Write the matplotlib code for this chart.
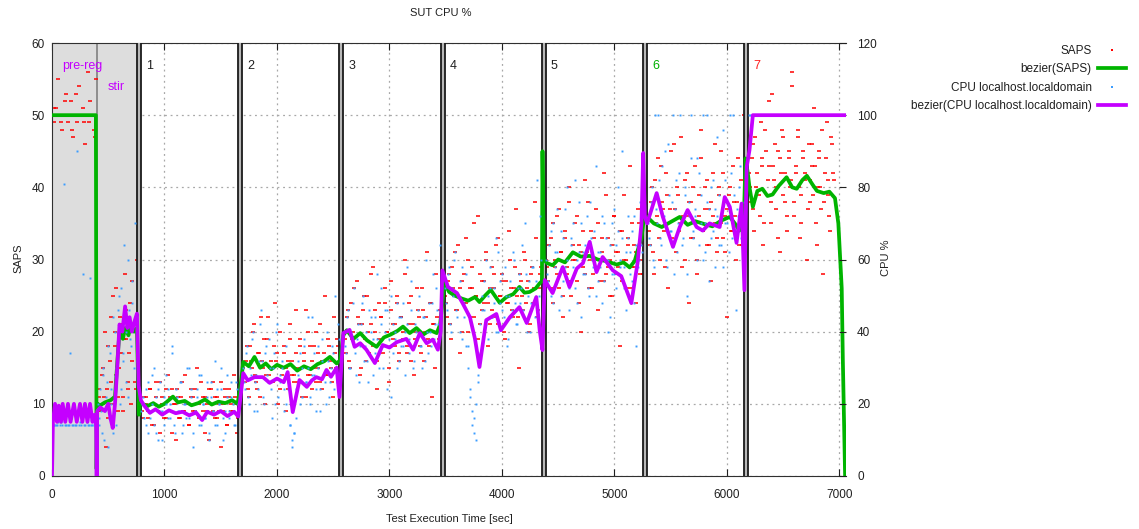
import numpy as np
import matplotlib
matplotlib.use('Agg')
import matplotlib.pyplot as plt
from matplotlib.lines import Line2D

plt.rcParams['font.family'] = ['Liberation Sans', 'DejaVu Sans']
plt.rcParams['font.size'] = 8
plt.rcParams['text.color'] = '#202020'

# stage boundaries (start of each separator), separator width 35 s
bounds = [755, 1655, 2555, 3455, 4355, 5255, 6155]
stage_names = ['1', '2', '3', '4', '5', '6', '7']
stage_colors = ['#202020', '#202020', '#202020', '#202020', '#202020', '#00b000', '#ff2020']

# phase time ranges for the scatter samples
phases = [(5, 392), (405, 752), (795, 1650), (1695, 2550), (2595, 3450),
          (3495, 4350), (4395, 5250), (5295, 6150), (6195, 6950)]

# SAPS samples per phase (left axis)
saps_pts = [
    [50, 49, 51, 55, 50, 48, 50, 53, 49, 50, 52, 47, 50, 49, 54, 50, 51, 46, 50, 49, 52, 50, 48, 55],
    [10, 12, 9, 15, 11, 4, 18, 10, 13, 25, 20, 14, 9, 22, 17, 11, 28, 19, 12, 24, 16, 21, 13, 30],
    [10, 8, 11, 9, 12, 7, 10, 13, 9, 6, 11, 10, 8, 14, 9, 12, 10, 5, 11, 8, 13, 9, 10, 7,
     12, 11, 9, 15, 10, 8, 11, 6, 9, 12, 10, 13, 8, 11, 9, 4, 10, 12, 7, 11, 9, 14, 10, 8],
    [15, 13, 18, 11, 16, 20, 14, 12, 17, 22, 15, 10, 19, 14, 16, 13, 24, 17, 12, 15, 18, 9, 16, 21,
     14, 13, 17, 15, 19, 11, 16, 23, 14, 18, 12, 15, 20, 17, 13, 16, 25, 14, 18, 15, 11, 17, 19, 15],
    [20, 17, 23, 15, 19, 26, 18, 22, 14, 21, 25, 16, 20, 28, 18, 23, 12, 19, 22, 17, 24, 20, 15, 27,
     21, 18, 24, 16, 22, 19, 30, 17, 21, 25, 14, 20, 23, 18, 26, 16, 22, 19, 24, 11, 21, 28, 18, 23],
    [25, 22, 28, 19, 26, 31, 23, 17, 27, 24, 33, 20, 26, 29, 22, 25, 36, 21, 27, 24, 30, 18, 26, 23,
     28, 32, 21, 25, 27, 19, 24, 34, 26, 22, 29, 25, 15, 27, 23, 30, 26, 20, 28, 24, 38, 22, 26, 29],
    [30, 27, 33, 24, 29, 36, 26, 31, 22, 34, 28, 38, 25, 30, 35, 27, 32, 20, 29, 41, 31, 26, 34, 28,
     37, 23, 30, 33, 27, 39, 29, 25, 32, 36, 28, 31, 18, 34, 30, 26, 33, 43, 29, 32, 24, 35, 30, 28],
    [36, 32, 40, 28, 35, 44, 30, 38, 34, 42, 26, 37, 33, 46, 31, 39, 35, 29, 41, 36, 24, 38, 33, 43,
     30, 36, 48, 34, 40, 32, 37, 27, 42, 35, 31, 39, 45, 33, 36, 22, 40, 34, 38, 30, 44, 36, 32, 50],
    [42, 38, 46, 34, 40, 50, 36, 44, 32, 48, 39, 43, 35, 53, 41, 37, 45, 31, 42, 47, 38, 34, 44, 40,
     56, 36, 42, 48, 33, 39, 45, 41, 30, 46, 38, 43, 51, 35, 40, 44, 37, 28, 42, 49, 39, 34, 46, 41],
]
# second pass of SAPS samples (interleaved in time)
saps_pts_b = [
    [51, 50, 49, 52, 50, 48, 53, 50, 49, 56, 50, 47],
    [11, 9, 14, 10, 20, 12, 8, 16, 22, 10, 18, 26, 11, 15, 21, 9, 19, 23, 13, 17, 10, 27, 20, 12],
    [9, 11, 10, 8, 12, 10, 7, 11, 9, 13, 10, 8, 12, 9, 11, 6, 10, 12, 8, 11, 9, 14, 10, 7,
     11, 9, 12, 10, 8, 13, 9, 11, 10, 5, 12, 9, 11, 8, 10, 13, 9, 11, 7, 12, 10, 9, 11, 6],
    [14, 16, 12, 18, 15, 21, 13, 17, 11, 16, 19, 14, 22, 15, 13, 18, 16, 10, 20, 14, 17, 15, 12, 19,
     16, 14, 23, 13, 18, 15, 17, 11, 20, 14, 16, 18, 13, 15, 21, 12, 17, 14, 19, 16, 13, 22, 15, 18],
    [19, 22, 16, 24, 20, 18, 27, 21, 15, 23, 19, 25, 17, 21, 29, 20, 16, 24, 22, 18, 26, 20, 13, 23,
     19, 21, 25, 17, 22, 20, 28, 18, 24, 16, 21, 19, 26, 22, 17, 23, 20, 31, 18, 24, 21, 15, 22, 19],
    [24, 27, 21, 29, 25, 23, 32, 26, 20, 28, 24, 30, 22, 26, 35, 25, 19, 28, 23, 27, 31, 24, 21, 29,
     26, 22, 33, 25, 28, 20, 27, 24, 30, 23, 26, 37, 22, 28, 25, 31, 24, 27, 21, 29, 26, 33, 23, 28],
    [29, 32, 26, 35, 30, 28, 37, 31, 25, 33, 29, 40, 27, 32, 30, 36, 24, 31, 34, 28, 38, 30, 26, 33,
     29, 35, 27, 31, 42, 28, 33, 30, 25, 36, 31, 29, 34, 27, 39, 30, 32, 26, 35, 29, 31, 37, 28, 33],
    [34, 38, 31, 41, 36, 33, 43, 37, 29, 39, 35, 45, 32, 37, 40, 34, 47, 36, 30, 42, 38, 33, 40, 35,
     28, 39, 44, 34, 37, 41, 32, 38, 36, 46, 33, 40, 35, 42, 31, 37, 39, 34, 43, 36, 38, 32, 41, 35],
    [40, 44, 37, 47, 42, 39, 49, 43, 35, 45, 41, 52, 38, 43, 46, 40, 33, 44, 48, 39, 42, 36, 45, 41,
     54, 38, 43, 47, 40, 35, 44, 42, 50, 37, 41, 46, 39, 43, 32, 45, 40, 48, 38, 44, 41, 36, 47, 42],
]

# CPU % samples per phase (right axis)
cpu_pts = [
    [14, 14, 14, 15, 14, 14, 81, 14, 14, 34, 16, 14, 14, 90, 14, 14, 56, 14, 15, 14, 55, 14, 14, 14],
    [20, 14, 18, 28, 10, 22, 36, 16, 24, 12, 40, 30, 46, 20, 52, 34, 44, 26, 60, 38, 48, 42, 70, 32],
    [18, 22, 14, 26, 16, 20, 30, 12, 24, 18, 10, 22, 28, 16, 20, 34, 14, 24, 18, 26, 12, 20, 16, 30,
     22, 8, 18, 24, 14, 28, 20, 16, 22, 12, 26, 18, 32, 14, 20, 24, 10, 18, 28, 16, 22, 14, 26, 20],
    [30, 24, 36, 20, 28, 40, 26, 18, 32, 46, 22, 34, 28, 38, 24, 30, 20, 42, 26, 32, 18, 36, 24, 14,
     10, 12, 16, 28, 34, 22, 38, 26, 30, 20, 44, 28, 24, 36, 18, 32, 26, 40, 22, 30, 34, 50, 26, 38],
    [40, 34, 46, 30, 38, 52, 28, 42, 36, 48, 32, 40, 26, 44, 38, 34, 56, 30, 42, 36, 46, 24, 38, 50,
     34, 40, 30, 44, 36, 48, 28, 42, 38, 54, 32, 40, 46, 36, 30, 44, 60, 34, 40, 48, 38, 52, 42, 64],
    [52, 46, 58, 40, 50, 62, 44, 54, 38, 48, 56, 36, 24, 18, 12, 20, 28, 42, 50, 46, 60, 38, 52, 44,
     48, 66, 40, 54, 46, 58, 36, 50, 44, 62, 48, 42, 56, 52, 46, 70, 40, 54, 48, 58, 44, 82, 50, 60],
    [60, 54, 68, 48, 62, 74, 56, 50, 66, 58, 80, 46, 64, 70, 52, 60, 76, 44, 62, 56, 72, 50, 66, 58,
     86, 54, 62, 48, 70, 60, 40, 64, 56, 74, 52, 68, 60, 90, 58, 46, 66, 62, 54, 72, 36, 60, 64, 78],
    [70, 64, 80, 58, 74, 100, 66, 86, 72, 60, 92, 68, 76, 56, 82, 70, 100, 64, 78, 50, 72, 88, 66, 74,
     60, 84, 70, 100, 62, 76, 54, 80, 68, 74, 94, 64, 72, 58, 82, 70, 100, 66, 78, 46, 72, 86, 68, 76],
    [100, 100, 100, 100, 100, 100, 100, 100, 100, 100, 100, 100, 100, 100, 100, 100],
]
# second pass of CPU samples
cpu_pts_b = [
    [14, 14, 15, 14, 14, 14, 14, 15, 14, 14, 14, 14],
    [16, 24, 12, 30, 18, 26, 8, 34, 20, 44, 28, 14, 38, 50, 24, 32, 64, 40, 22, 46, 36, 54, 30, 42],
    [20, 16, 24, 12, 18, 28, 14, 22, 10, 26, 18, 14, 20, 24, 16, 36, 12, 22, 18, 26, 14, 20, 30, 16,
     24, 12, 18, 22, 28, 14, 20, 16, 26, 10, 22, 18, 14, 24, 20, 30, 16, 12, 22, 18, 26, 20, 14, 24],
    [26, 34, 22, 30, 38, 18, 28, 24, 42, 32, 20, 36, 26, 30, 16, 34, 40, 22, 28, 30, 24, 20, 26, 14,
     8, 12, 24, 32, 20, 30, 36, 26, 44, 22, 28, 34, 18, 30, 24, 38, 28, 20, 32, 26, 36, 24, 30, 42],
    [36, 44, 30, 40, 48, 34, 38, 26, 42, 50, 36, 32, 46, 40, 28, 44, 38, 34, 52, 30, 40, 46, 36, 22,
     42, 38, 48, 32, 44, 36, 40, 58, 34, 46, 30, 42, 38, 50, 36, 44, 32, 40, 48, 36, 56, 42, 46, 38],
    [48, 56, 42, 52, 60, 46, 50, 40, 58, 44, 36, 30, 22, 14, 16, 10, 26, 34, 46, 54, 42, 50, 58, 44,
     52, 40, 62, 48, 56, 44, 50, 38, 54, 46, 60, 42, 52, 48, 64, 44, 56, 50, 40, 58, 48, 54, 46, 72],
    [56, 64, 50, 70, 58, 62, 46, 68, 54, 74, 60, 52, 66, 58, 82, 48, 62, 70, 56, 64, 52, 76, 60, 68,
     50, 62, 58, 72, 54, 66, 60, 44, 70, 56, 64, 80, 58, 66, 52, 62, 72, 56, 68, 48, 64, 58, 76, 62],
    [66, 76, 60, 100, 70, 82, 64, 72, 90, 58, 78, 68, 100, 74, 62, 84, 70, 66, 80, 56, 76, 100, 68, 72,
     88, 64, 78, 60, 70, 100, 74, 66, 82, 58, 72, 78, 64, 96, 70, 76, 62, 84, 100, 68, 74, 80, 66, 72],
    [100, 100, 100, 100, 100, 100, 100, 100],
]

# bezier(SAPS)
saps_x = [0, 390, 396, 402, 430, 470, 520, 560, 586, 600, 630, 650, 680, 700, 730, 755, 772, 785,
          800, 850, 900, 950, 1000, 1075, 1120, 1180, 1240, 1300, 1360, 1420, 1480, 1540, 1600, 1650,
          1680, 1700, 1750, 1800, 1850, 1900, 1950, 2000, 2060, 2120, 2180, 2240, 2300, 2360, 2420,
          2470, 2530, 2560, 2590, 2620, 2680, 2740, 2800, 2885, 2950, 3010, 3070, 3120, 3180, 3240,
          3300, 3360, 3420, 3450, 3470, 3490, 3530, 3580, 3640, 3700, 3760, 3800, 3850, 3900, 3980,
          4040, 4100, 4155, 4200, 4245, 4300, 4335, 4355, 4360, 4372, 4400, 4450, 4500, 4560, 4630,
          4700, 4780, 4850, 4920, 5020, 5080, 5135, 5180, 5205, 5240, 5260, 5290, 5350, 5420, 5500,
          5580, 5650, 5720, 5800, 5870, 5950, 6025, 6070, 6110, 6150, 6165, 6185, 6200, 6230, 6270,
          6315, 6360, 6405, 6460, 6530, 6580, 6620, 6670, 6710, 6760, 6800, 6860, 6910, 6960, 6990,
          7020, 7030, 7040, 7050]
saps_y = [50, 50, 1, 10, 9.8, 10.2, 10.5, 11, 17, 20, 19, 20.5, 19.5, 21, 20, 20.5, 8.5, 10.5,
          10, 9.7, 10.1, 9.6, 10, 11, 10.2, 10.4, 9.8, 10.1, 10.6, 9.9, 10.3, 10.1, 10.5, 10.0,
          13, 15.8, 15.2, 16.5, 15.0, 15.6, 14.8, 15.4, 15.0, 15.5, 14.6, 15.2, 14.8, 15.5, 15.9,
          16.5, 15.6, 16.0, 19.5, 20.2, 19.0, 19.8, 18.8, 17.9, 19.2, 19.6, 20.1, 20.7, 19.8, 20.5,
          19.6, 20.2, 19.8, 21, 24, 26.7, 25.5, 25.0, 24.6, 24.3, 24.8, 24.1, 25.0, 25.8, 24.0,
          24.8, 25.2, 26.2, 25.4, 25.5, 26.0, 26.7, 27, 45, 30, 29.5, 29.2, 30.0, 29.6, 31.0,
          30.4, 30.5, 30.0, 29.8, 29.3, 29.6, 28.9, 29.8, 31.2, 33, 35.5, 35.9, 35.0, 34.5, 35.2,
          35.9, 34.8, 35.3, 34.9, 34.6, 35.4, 35.9, 35.0, 34.0, 35.5, 44, 42, 40, 37.3, 39.5,
          39.8, 38.8, 39, 40.2, 41.4, 40.0, 39.8, 41.0, 41.6, 40.4, 39.5, 39.2, 39.4, 38.5, 35,
          26, 16, 8, 0]

# bezier(CPU)
cpu_x = [0, 8, 27, 45, 60, 80, 95, 118, 142, 165, 195, 220, 249, 270, 293, 315, 338, 360, 380, 392,
         397, 402, 430, 470, 500, 520, 540, 560, 580, 600, 625, 650, 670, 690, 710, 735, 755, 770,
         790, 820, 870, 920, 980, 1040, 1100, 1160, 1220, 1280, 1335, 1380, 1440, 1500, 1560, 1620,
         1655, 1680, 1700, 1740, 1800, 1875, 1935, 2000, 2060, 2095, 2140, 2200, 2265, 2310, 2350,
         2400, 2440, 2480, 2530, 2555, 2590, 2645, 2690, 2740, 2795, 2870, 2940, 3000, 3065, 3150,
         3210, 3270, 3330, 3385, 3430, 3455, 3470, 3520, 3600, 3650, 3715, 3760, 3800, 3860, 3950,
         3990, 4070, 4155, 4220, 4305, 4335, 4360, 4380, 4450, 4540, 4600, 4665, 4720, 4780, 4840,
         4895, 4985, 5060, 5150, 5205, 5240, 5255, 5270, 5290, 5375, 5430, 5520, 5580, 5650, 5730,
         5785, 5845, 5935, 5980, 6025, 6085, 6130, 6155, 6175, 6200, 6230, 7058]
cpu_y = [0, 15, 20, 15, 19.5, 15, 20, 15, 20, 15, 20, 15, 20, 15, 20, 15, 20, 15, 17, 14,
         0, 18, 19, 18, 20, 16, 13.3, 20, 30, 42, 40, 47, 41, 44, 40, 43, 45, 25,
         21, 19.5, 17.5, 18.5, 17.0, 18.2, 17.4, 17.8, 16.8, 17.6, 15.5, 17.8, 17.0, 18.0, 16.6, 17.8,
         16.5, 23, 28.5, 26.5, 27.4, 27.4, 25.8, 27.0, 26.0, 28.8, 17.7, 26.6, 24.7, 26.5, 27.4,
         26.8, 29.4, 27.5, 30, 21.9, 39.6, 40.5, 35.8, 36.8, 35, 31.3, 36.3, 35.6, 37.1, 38,
         35, 39.6, 36.8, 37.8, 35, 40, 57, 52.4, 50.7, 47.9, 44, 38, 30.2, 43.2, 44.9,
         40.4, 44, 46.8, 42.4, 49.6, 40.4, 34.9, 54.3, 50.7, 57.9, 52.4, 57.5, 59, 64.9, 56.5,
         60.7, 57, 55.4, 47.9, 59, 70, 89.5, 72, 70, 78.4, 71.8, 63.5, 69, 73.7, 69,
         68, 70, 69, 77.3, 74.6, 64.6, 75.5, 51.5, 85.6, 90.3, 100, 100]

RED = '#ff0000'
GREEN = '#00b400'
BLUE = '#3a9cff'
PURPLE = '#c400ff'

fig = plt.figure(figsize=(11.39, 5.29), dpi=100)
ax = fig.add_axes([52 / 1139, 53 / 529, 794 / 1139, 433 / 529])
ax2 = ax.twinx()

ax.set_axisbelow(True)
ax.grid(True, color='#a8a8a8', ls=(0, (1.5, 3)), lw=0.9)

# pre-reg / stir shaded area
ax.axvspan(0, bounds[0], color='#dddddd', lw=0, zorder=0.8)
ax.axvline(400, color='#808080', lw=1.2, zorder=0.9)

for (a, b), v1, v2 in zip(phases, saps_pts, saps_pts_b):
    ax.plot(np.linspace(a, b, len(v1)), v1, ls='none', marker='_', ms=3, mew=1.1,
            color=RED, zorder=2)
    ax.plot(np.linspace(a + 9, b - 9, len(v2)), v2, ls='none', marker='_', ms=3, mew=1.1,
            color=RED, zorder=2)

for b in bounds:
    ax.axvspan(b, b + 35, facecolor='#b8b8b8', edgecolor='none', zorder=3)
    ax.axvline(b, color='#1a1a1a', lw=1.3, zorder=3)
    ax.axvline(b + 35, color='#1a1a1a', lw=1.3, zorder=3)

ax.plot(saps_x, saps_y, color=GREEN, lw=2.7, zorder=4)

for (a, b), v1, v2 in zip(phases, cpu_pts, cpu_pts_b):
    ax2.plot(np.linspace(a, b, len(v1)), v1, ls='none', marker='s', ms=1.4, mew=0,
             color=BLUE, zorder=2)
    ax2.plot(np.linspace(a + 9, b - 9, len(v2)), v2, ls='none', marker='s', ms=1.4, mew=0,
             color=BLUE, zorder=2)
ax2.plot(cpu_x, cpu_y, color=PURPLE, lw=2.7, zorder=4)

# stage labels
ax.text(89, 56.8, 'pre-reg', color=PURPLE, ha='left', va='center', fontsize=9)
ax.text(498, 53.9, 'stir', color=PURPLE, ha='left', va='center', fontsize=9)
for b, name, c in zip(bounds, stage_names, stage_colors):
    ax.text(b + 80, 56.8, name, color=c, ha='left', va='center', fontsize=9)

ax.set_xlim(0, 7058)
ax.set_ylim(0, 60)
ax2.set_ylim(0, 120)
ax.set_xticks(range(0, 7001, 1000))
ax.set_yticks(range(0, 61, 10))
ax2.set_yticks(range(0, 121, 20))
ax.tick_params(direction='in', length=5, top=True, right=False, labelsize=8.5, colors='#202020')
ax.tick_params(axis='x', pad=9)
ax.tick_params(axis='y', pad=5)
ax2.tick_params(direction='in', length=5, right=True, left=False, labelsize=8.5, pad=8,
                colors='#202020')
ax.spines['right'].set_visible(False)
for s in ax2.spines.values():
    s.set_visible(False)
for s in ['left', 'bottom', 'top']:
    ax.spines[s].set_color('#303030')

fig.text(441 / 1139, 1 - 13 / 529, 'SUT CPU %', ha='center', va='center')
fig.text(18 / 1139, 1 - 258 / 529, 'SAPS', rotation=90, ha='center', va='center')
fig.text(886 / 1139, 1 - 258 / 529, 'CPU %', rotation=90, ha='center', va='center')
fig.text(449 / 1139, 1 - 519 / 529, 'Test Execution Time [sec]', ha='center', va='center')

handles = [
    Line2D([], [], ls='none', marker='s', ms=1.5, mew=0, color=RED),
    Line2D([], [], color=GREEN, lw=2.7),
    Line2D([], [], ls='none', marker='s', ms=1.5, mew=0, color=BLUE),
    Line2D([], [], color=PURPLE, lw=2.7),
]
labels = ['SAPS', 'bezier(SAPS)', 'CPU localhost.localdomain', 'bezier(CPU localhost.localdomain)']
fig.legend(handles, labels, loc='upper right', bbox_to_anchor=(1126 / 1139, 1 - 45 / 529),
           frameon=False, markerfirst=False, fontsize=8.5, handlelength=2.4, handletextpad=0.5,
           labelspacing=0.55, borderpad=0, borderaxespad=0)

fig.savefig('out.png', dpi=100)
